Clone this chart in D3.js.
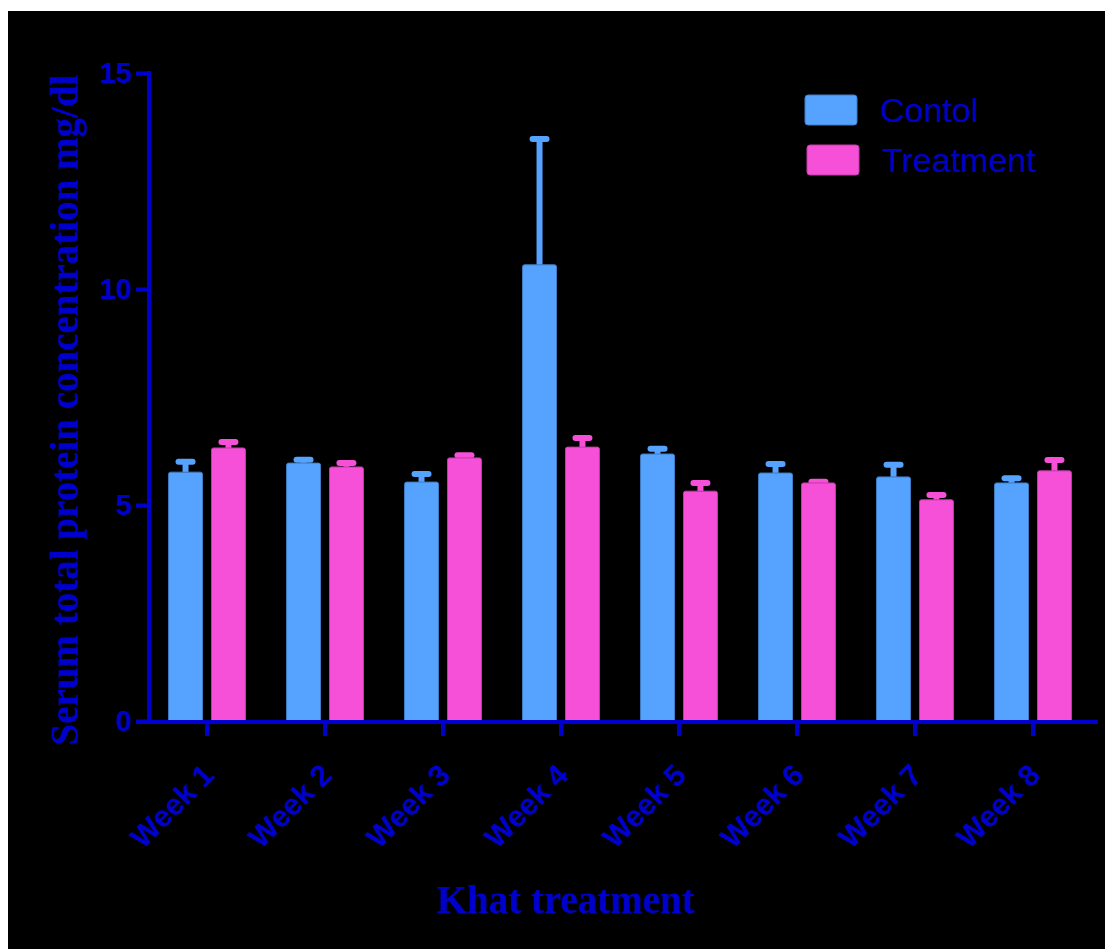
<!DOCTYPE html>
<html>
<head>
<meta charset="utf-8">
<script src="https://cdn.jsdelivr.net/npm/d3@7"></script>
<style>
  html, body { margin: 0; padding: 0; background: #ffffff; }
  svg { display: block; }
</style>
</head>
<body>
<div id="chart"></div>
<script>
// Serum total protein (mg/dl) per week, control vs khat-treated group
const weeks = ["Week 1", "Week 2", "Week 3", "Week 4", "Week 5", "Week 6", "Week 7", "Week 8"];
const seriesNames = ["Contol", "Treatment"];
const controlMean = [5.76, 5.97, 5.53, 10.56, 6.18, 5.74, 5.65, 5.51];
const controlErr  = [0.24, 0.08, 0.19, 2.91, 0.12, 0.21, 0.28, 0.11];
const treatMean   = [6.32, 5.88, 6.09, 6.34, 5.32, 5.51, 5.12, 5.79];
const treatErr    = [0.14, 0.09, 0.06, 0.21, 0.19, 0.03, 0.11, 0.25];
const yTicks = [0, 5, 10, 15];

const W = 1105, H = 949;
const blue = "#0000CC";
const fills = { "Contol": "#55A2FF", "Treatment": "#F650D8" };
const strokes = { "Contol": "#3F7CC4", "Treatment": "#C03CA8" };

const rows = weeks.map((w, i) => ({
  week: w,
  values: [
    { series: "Contol", mean: controlMean[i], err: controlErr[i] },
    { series: "Treatment", mean: treatMean[i], err: treatErr[i] }
  ]
}));

const svg = d3.select("#chart").append("svg")
  .attr("width", W).attr("height", H);

// dark panel
svg.append("rect").attr("x", 8).attr("y", 11)
  .attr("width", W - 8).attr("height", H - 11).attr("fill", "#000000");

const x0 = d3.scaleBand().domain(weeks).range([148, 1092])
  .paddingInner(0.34).paddingOuter(0.17);
const x1 = d3.scaleBand().domain(seriesNames).range([0, x0.bandwidth()])
  .paddingInner(8 / 43);
const y = d3.scaleLinear().domain([0, 15]).range([721, 73]);

// bars with error bars
const groups = svg.append("g").selectAll("g").data(rows).join("g")
  .attr("transform", d => `translate(${x0(d.week)},0)`);

groups.selectAll("line.stem").data(d => d.values).join("line")
  .attr("class", "stem")
  .attr("x1", d => x1(d.series) + x1.bandwidth() / 2)
  .attr("x2", d => x1(d.series) + x1.bandwidth() / 2)
  .attr("y1", d => y(d.mean))
  .attr("y2", d => y(d.mean + d.err))
  .attr("stroke", d => fills[d.series])
  .attr("stroke-width", 6);

groups.selectAll("line.cap").data(d => d.values).join("line")
  .attr("class", "cap")
  .attr("x1", d => x1(d.series) + x1.bandwidth() / 2 - 7)
  .attr("x2", d => x1(d.series) + x1.bandwidth() / 2 + 7)
  .attr("y1", d => y(d.mean + d.err))
  .attr("y2", d => y(d.mean + d.err))
  .attr("stroke", d => fills[d.series])
  .attr("stroke-width", 6)
  .attr("stroke-linecap", "round");

groups.selectAll("rect").data(d => d.values).join("rect")
  .attr("x", d => x1(d.series) + 0.5)
  .attr("y", d => y(d.mean))
  .attr("width", x1.bandwidth() - 1)
  .attr("height", d => y(0) - y(d.mean) + 2)
  .attr("rx", 2)
  .attr("fill", d => fills[d.series])
  .attr("stroke", d => strokes[d.series])
  .attr("stroke-width", 1);

// y axis
const yAxis = svg.append("g").attr("transform", "translate(149,0)")
  .call(d3.axisLeft(y).tickValues(yTicks).tickSize(13).tickPadding(4).tickSizeOuter(0));
yAxis.select(".domain").remove();
yAxis.selectAll(".tick line").attr("stroke", blue).attr("stroke-width", 4);
yAxis.selectAll(".tick text")
  .attr("fill", blue)
  .style("font-family", "'Liberation Sans', Arial, sans-serif")
  .style("font-weight", "bold")
  .style("font-size", "29px");
svg.append("line")
  .attr("x1", 149).attr("x2", 149)
  .attr("y1", y(15) - 2).attr("y2", y(0) + 2)
  .attr("stroke", blue).attr("stroke-width", 4);

// x axis
const xAxis = svg.append("g").attr("transform", `translate(0,${y(0) + 1})`)
  .call(d3.axisBottom(x0).tickSize(14).tickSizeOuter(0));
xAxis.select(".domain").remove();
xAxis.selectAll(".tick line").attr("stroke", blue).attr("stroke-width", 4);
xAxis.selectAll(".tick text")
  .attr("fill", blue)
  .style("font-family", "'Liberation Sans', Arial, sans-serif")
  .style("font-weight", "bold")
  .style("font-size", "30px")
  .attr("text-anchor", "end")
  .attr("dy", "0")
  .attr("x", 0).attr("y", 0)
  .attr("transform", "translate(9,55) rotate(-45)");
svg.append("line")
  .attr("x1", 136).attr("x2", 1098)
  .attr("y1", y(0) + 1).attr("y2", y(0) + 1)
  .attr("stroke", blue).attr("stroke-width", 4);

// axis titles
svg.append("text")
  .attr("transform", `translate(78,${(y(0) + y(15)) / 2 + 13}) rotate(-90)`)
  .attr("text-anchor", "middle")
  .attr("fill", blue)
  .style("font-family", "'Liberation Serif', 'Times New Roman', serif")
  .style("font-weight", "bold")
  .style("font-size", "39px")
  .text("Serum total protein concentration mg/dl");

svg.append("text")
  .attr("x", 566).attr("y", 913)
  .attr("text-anchor", "middle")
  .attr("fill", blue)
  .style("font-family", "'Liberation Serif', 'Times New Roman', serif")
  .style("font-weight", "bold")
  .style("font-size", "39px")
  .text("Khat treatment");

// legend
const legend = svg.append("g").selectAll("g").data(seriesNames).join("g")
  .attr("transform", (d, i) => `translate(${805 + i * 2},${95 + i * 50})`);
legend.append("rect")
  .attr("width", 52).attr("height", 30).attr("rx", 3)
  .attr("fill", d => fills[d])
  .attr("stroke", d => strokes[d]).attr("stroke-width", 1);
legend.append("text")
  .attr("x", 75).attr("y", 27)
  .attr("fill", blue)
  .style("font-family", "'Liberation Sans', Arial, sans-serif")
  .style("font-size", "34px")
  .text(d => d);
</script>
</body>
</html>
